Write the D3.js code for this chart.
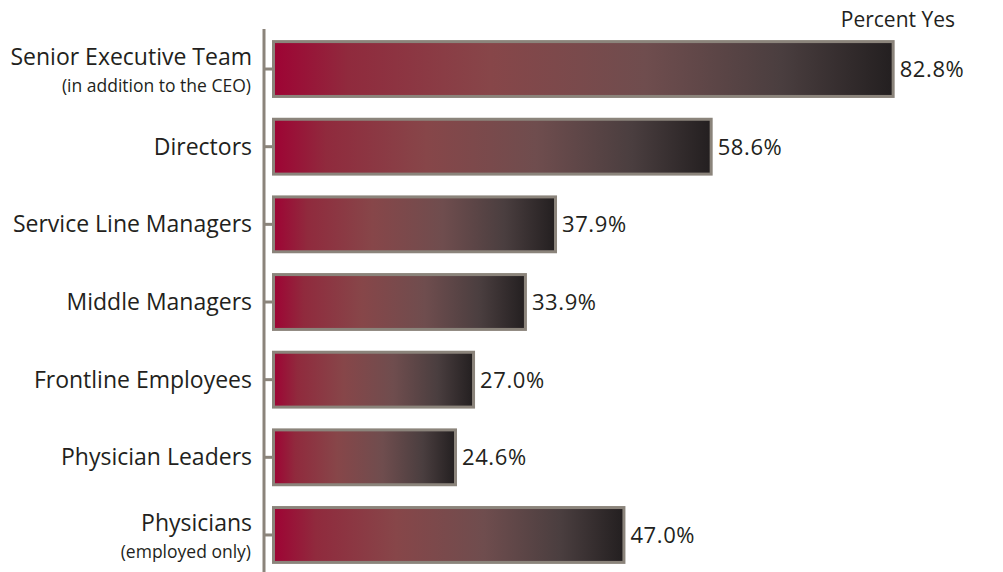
<!DOCTYPE html>
<html>
<head>
<meta charset="utf-8">
<script src="https://cdn.jsdelivr.net/npm/d3@7"></script>
<style>
  html, body { margin: 0; padding: 0; background: #fff; }
  svg { display: block; font-family: "Open Sans", "Noto Sans", sans-serif; }
</style>
</head>
<body>
<svg id="chart" width="1003" height="572"></svg>
<script>
// Share of respondents answering "yes", by staff group
const categories = [
  "Senior Executive Team",
  "Directors",
  "Service Line Managers",
  "Middle Managers",
  "Frontline Employees",
  "Physician Leaders",
  "Physicians"
];
const subLabels = [
  "(in addition to the CEO)",
  "",
  "",
  "",
  "",
  "",
  "(employed only)"
];
const percentYes = [82.8, 58.6, 37.9, 33.9, 27.0, 24.6, 47.0];
const valueTitle = "Percent Yes";

const svg = d3.select("#chart");
const axisX = 264;
const x0 = 272;

const x = d3.scaleLinear().domain([0, 100]).range([x0, x0 + 752]);
const y = d3.scaleBand().domain(categories).range([30, 574]).paddingInner(0.255).paddingOuter(0.13);

// horizontal gradient shared by every bar (objectBoundingBox units)
const defs = svg.append("defs");
const grad = defs.append("linearGradient").attr("id", "barGrad")
  .attr("x1", "0%").attr("x2", "100%").attr("y1", "0%").attr("y2", "0%");
[
  [0, "#9e0334"],
  [0.12, "#902a3d"],
  [0.35, "#874649"],
  [0.6, "#6f4d4e"],
  [0.82, "#4a3e3f"],
  [1, "#231f20"]
].forEach(([o, c]) => grad.append("stop").attr("offset", o).attr("stop-color", c));

// bars
svg.append("g").selectAll("rect").data(categories).join("rect")
  .attr("x", x(0) + 1.5)
  .attr("y", d => y(d) + 1.5)
  .attr("width", (d, i) => x(percentYes[i]) - x(0) - 3)
  .attr("height", y.bandwidth() - 3)
  .attr("fill", "url(#barGrad)")
  .attr("stroke", "#8b847b")
  .attr("stroke-width", 3);

// category axis
const axis = d3.axisLeft(y).tickSize(9).tickFormat("");
const gAxis = svg.append("g").attr("transform", `translate(${axisX + 8},0)`).call(axis);
gAxis.select(".domain").remove();
gAxis.selectAll(".tick line").attr("stroke", "#8b847b").attr("stroke-width", 3);
svg.append("line")
  .attr("x1", axisX).attr("x2", axisX)
  .attr("y1", 29).attr("y2", 572)
  .attr("stroke", "#8b847b").attr("stroke-width", 3);

// category labels
const labels = svg.append("g").selectAll("g").data(categories).join("g")
  .attr("transform", d => `translate(252,${y(d) + y.bandwidth() / 2})`);
labels.append("text")
  .attr("text-anchor", "end")
  .attr("y", (d, i) => subLabels[i] ? -4 : 8)
  .attr("font-size", 23)
  .attr("fill", "#231f20")
  .text(d => d);
labels.append("text")
  .attr("text-anchor", "end")
  .attr("x", -1)
  .attr("y", 23)
  .attr("font-size", 17.5)
  .attr("fill", "#231f20")
  .text((d, i) => subLabels[i]);

// value labels
svg.append("g").selectAll("text").data(categories).join("text")
  .attr("x", (d, i) => x(percentYes[i]) + 5)
  .attr("y", d => y(d) + y.bandwidth() / 2 + 8)
  .attr("font-size", 22)
  .attr("letter-spacing", 0.6)
  .attr("fill", "#231f20")
  .text((d, i) => d3.format(".1f")(percentYes[i]) + "%");

// value title
svg.append("text")
  .attr("x", 955).attr("y", 27)
  .attr("text-anchor", "end")
  .attr("font-size", 21)
  .attr("fill", "#231f20")
  .text(valueTitle);
</script>
</body>
</html>
